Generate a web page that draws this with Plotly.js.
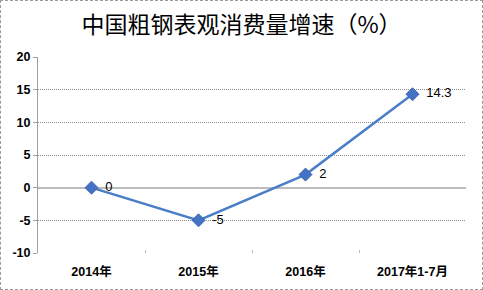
<!DOCTYPE html>
<html><head><meta charset="utf-8">
<script src="https://cdn.plot.ly/plotly-3.0.1.min.js"></script>
<style>
html,body{margin:0;padding:0;background:#fff;}
#wrap{position:relative;width:483px;height:290px;}
#chart{width:483px;height:290px;}
#border{position:absolute;left:0;top:0;width:483px;height:290px;box-sizing:border-box;border:1px dashed #9a9a9a;pointer-events:none;}
</style>
</head><body>
<div id="wrap"><div id="chart"></div><div id="border"></div></div>
<script>
const categories = ['2014年', '2015年', '2016年', '2017年1-7月'];
const growth = [0, -5, 2, 14.3];
const labels = ['0', '-5', '2', '14.3'];
const yTicks = [-10, -5, 0, 5, 10, 15, 20];

const trace = {
  x: categories, y: growth, text: labels.map(s => '\u2002' + s),
  type: 'scatter', mode: 'lines+markers+text',
  textposition: 'middle right',
  textfont: {family: 'Liberation Sans, Arial, sans-serif', size: 13, color: '#000'},
  line: {color: '#4A7EC8', width: 2.5},
  marker: {symbol: 'diamond', size: 10, color: '#4472C4', line: {color: '#3B66B0', width: 1}},
  cliponaxis: false, hoverinfo: 'none'
};

const layout = {
  width: 483, height: 290,
  margin: {l: 38, r: 17, t: 57, b: 37},
  paper_bgcolor: '#fff', plot_bgcolor: '#fff',
  showlegend: false,
  title: {text: '中国粗钢表观消费量增速（%）', x: 0.5, xanchor: 'center', y: 0.915, yanchor: 'middle',
          font: {family: 'Noto Sans CJK SC, sans-serif', size: 23, color: '#000'}},
  xaxis: {
    type: 'category', range: [-0.5, 3.5],
    showgrid: false, zeroline: false, showline: false,
    ticks: 'inside', tickson: 'boundaries', ticklen: 3, tickcolor: '#bbb',
    tickfont: {family: 'Liberation Sans, Noto Sans CJK SC, sans-serif', size: 12.5, color: '#000', weight: 'bold'},
    ticklabelstandoff: 9
  },
  yaxis: {
    range: [-10, 20], tickvals: yTicks, ticktext: yTicks.map(String),
    showgrid: true, gridcolor: '#8c8c8c', griddash: '1px,1px', gridwidth: 1,
    zeroline: true, zerolinecolor: '#bdbdbd', zerolinewidth: 2,
    showline: true, linecolor: '#a0a0a0', linewidth: 1,
    ticks: 'outside', ticklen: 4, tickcolor: '#a0a0a0',
    tickfont: {family: 'Liberation Sans, Arial, sans-serif', size: 12.5, color: '#000', weight: 'bold'}
  }
};

Plotly.newPlot('chart', [trace], layout, {staticPlot: true, displayModeBar: false});
</script>
</body></html>
